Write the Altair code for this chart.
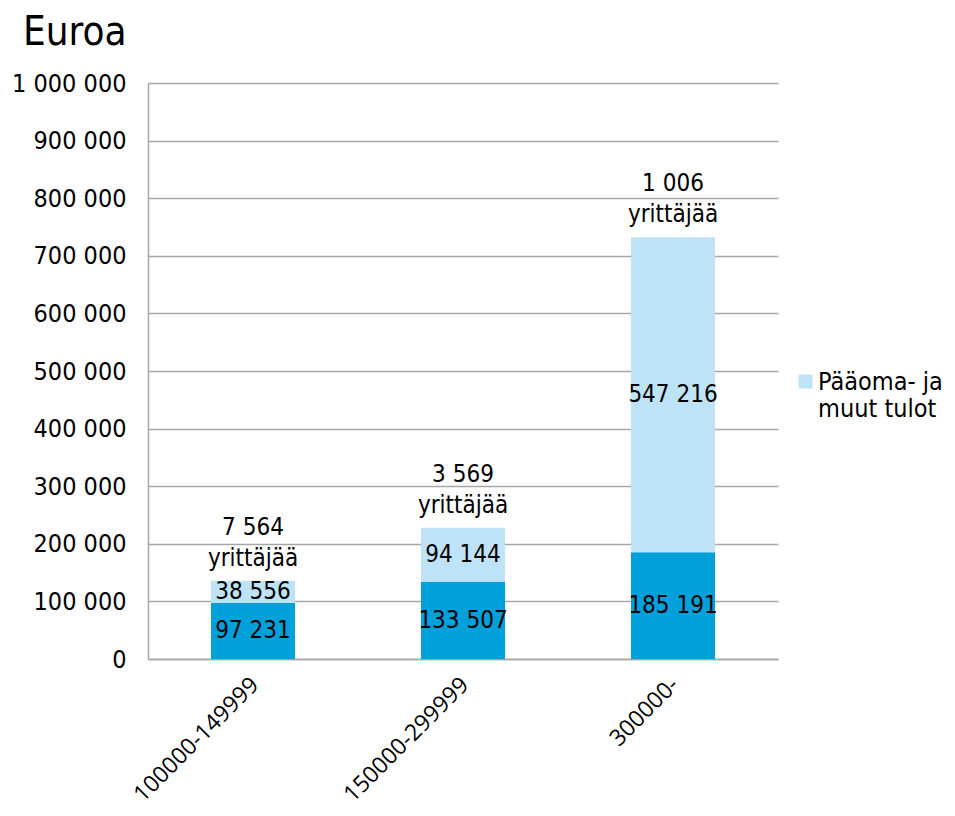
import altair as alt
import pandas as pd

categories = ["100000-149999", "150000-299999", "300000-"]
ansiotulot = [97231, 133507, 185191]
paaomatulot = [38556, 94144, 547216]
yrittajat = ["7 564", "3 569", "1 006"]
series_name = "Pääoma- ja muut tulot"

df = pd.DataFrame({
    "cat": categories,
    "a": ansiotulot,
    "p": paaomatulot,
    "n": [f"{n}\nyrittäjää" for n in yrittajat],
    "s": [series_name] * len(categories),
})

FONT = "DejaVu Sans Condensed"
DARK = "#00A1DA"
LIGHT = "#BEE3F6"
GRID = "#a6a6a6"

base = alt.Chart(df).transform_calculate(
    total="datum.a + datum.p",
    amid="datum.a / 2",
    pmid="datum.a + datum.p / 2",
)

x = alt.X("cat:N", sort=categories, title=None,
          scale=alt.Scale(paddingInner=0.6, paddingOuter=0.3),
          axis=alt.Axis(labelAngle=315, labelAlign="right", labelBaseline="middle",
                        labelPadding=22, labelOffset=2, ticks=False, domainColor=GRID,
                        domainWidth=1.5, labelFontSize=23, labelColor="black",
                        labelFont="Open Sans", labelLimit=400))

yscale = alt.Scale(domain=[0, 1000000])

dark = base.mark_bar(color=DARK).encode(
    x=x,
    y=alt.Y("a:Q", scale=yscale, title=None,
            axis=alt.Axis(values=list(range(0, 1000001, 100000)), format=",d",
                          ticks=False, labelPadding=22, gridColor=GRID,
                          gridWidth=1.5, domainColor=GRID, domainWidth=1.5,
                          labelFontSize=25, labelColor="black", labelFont=FONT)),
)

light = base.mark_bar().encode(
    x=x,
    y=alt.Y("a:Q", scale=yscale),
    y2="total:Q",
    color=alt.Color("s:N", scale=alt.Scale(range=[LIGHT]), title=None,
                    legend=alt.Legend(orient="none", legendX=645, legendY=286,
                                      symbolType="square", symbolSize=196,
                                      symbolStrokeWidth=0,
                                      labelExpr="['Pääoma- ja', 'muut tulot']",
                                      labelFontSize=25, labelFont=FONT,
                                      labelColor="black", labelLimit=400,
                                      labelBaseline="middle", labelOffset=0)),
)

text_a = base.mark_text(fontSize=24, font=FONT, color="black").encode(
    x=x, y=alt.Y("amid:Q", scale=yscale), text=alt.Text("a:Q", format=",d"))
text_p = base.mark_text(fontSize=24, font=FONT, color="black").encode(
    x=x, y=alt.Y("pmid:Q", scale=yscale), text=alt.Text("p:Q", format=",d"))
text_n = base.mark_text(fontSize=24, font=FONT, color="black", baseline="bottom",
                        lineBreak="\n", lineHeight=31, dy=-41).encode(
    x=x, y=alt.Y("total:Q", scale=yscale), text="n:N")

chart = alt.layer(dark, light, text_a, text_p, text_n).properties(
    width=630, height=576,
    autosize=alt.AutoSizeParams(type="none"),
    padding={"left": 140, "top": 75, "right": 169, "bottom": 149},
    title=alt.TitleParams("Euroa", anchor="start", frame="group", dx=-125,
                          offset=18, fontSize=40, fontWeight="normal",
                          font=FONT, color="black"),
).configure(
    font=FONT,
    locale=alt.Locale(number=alt.NumberLocale(decimal=",", thousands=" ",
                                              grouping=[3], currency=["", " €"])),
).configure_view(stroke=None)

chart.save("out.html", embed_options={"renderer": "svg", "actions": False})
